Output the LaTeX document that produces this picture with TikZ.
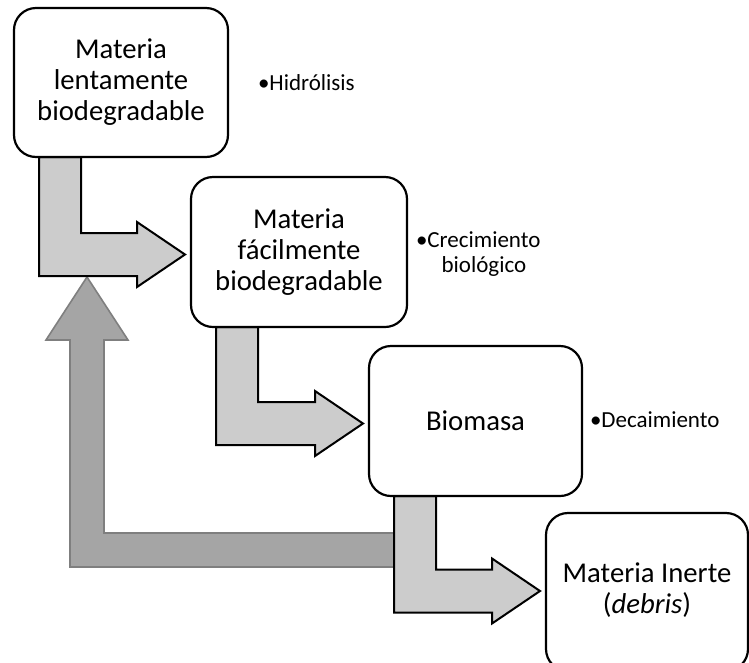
\documentclass[tikz,border=0pt]{standalone}
\usepackage{fontspec}
\setmainfont{Carlito}
\usetikzlibrary{calc}
\definecolor{lightarrow}{HTML}{CCCCCC}
\definecolor{darkarrow}{HTML}{A5A5A5}
\definecolor{darkedge}{HTML}{7F7F7F}
\tikzset{
  procbox/.style={draw=black, line width=2.2pt, fill=white, rounded corners=22pt,
    outer sep=0pt, inner sep=0pt, align=center,
    font=\fontsize{28.7}{31}\selectfont},
  lightarr/.style={draw=black, line width=2pt, fill=lightarrow, line join=miter},
  darkarr/.style={draw=darkedge, line width=1.6pt, fill=darkarrow, line join=miter},
  bulletlabel/.style={inner sep=0pt, outer sep=0pt, anchor=base west,
    font=\fontsize{23}{25.5}\selectfont}
}
\newcommand\bentarrow[2]{%
  \draw[lightarr] let \p1=($(#1.south west)+(25,0)$), \p2=($(#2.west)+(-6,\arrowdrop)$) in
    (\x1,\y1) -- (\x1+42pt,\y1) -- (\x1+42pt,\y2+21.5pt) -- (\x2-48pt,\y2+21.5pt)
    -- (\x2-48pt,\y2+32.5pt) -- (\x2,\y2) -- (\x2-48pt,\y2-32.5pt)
    -- (\x2-48pt,\y2-21.5pt) -- (\x1,\y2-21.5pt) -- cycle;}
\def\arrowdrop{2.5}
\begin{document}
\begin{tikzpicture}[x=1pt, y=-1pt]
\useasboundingbox (0,0) rectangle (749,662);
\clip (0,0) rectangle (749,662);
% box geometry (nodes placed first with no drawing, to be referenced)
\path
  (121,82.5) node[procbox, draw=none, fill=none, minimum width=214pt, minimum height=149pt] (b1) {}
  (299,252) node[procbox, draw=none, fill=none, minimum width=216pt, minimum height=150pt] (b2) {}
  (475.5,421) node[procbox, draw=none, fill=none, minimum width=213pt, minimum height=150pt] (b3) {}
  (647,592) node[procbox, draw=none, fill=none, minimum width=202pt, minimum height=158pt] (b4) {};
% feedback arrow
\coordinate (fbtip) at (87,277);
\draw[darkarr] ($(b3.south west)+(25,37)$) -- (104,533) -- (104,340) -- (128,340)
  -- (fbtip) -- (46,340) -- (70,340) -- (70,567) -- ($(b3.south west)+(25,71)$) -- cycle;
% bent arrows
\bentarrow{b1}{b2}
\bentarrow{b2}{b3}
\def\arrowdrop{-1}
\bentarrow{b3}{b4}
% boxes
\node[procbox, minimum width=214pt, minimum height=149pt] (box1) at (b1) {Materia\\lentamente\\biodegradable};
\node[procbox, minimum width=216pt, minimum height=150pt] (box2) at (b2) {Materia\\fácilmente\\biodegradable};
\node[procbox, minimum width=213pt, minimum height=150pt] (box3) at (b3) {Biomasa};
\node[procbox, minimum width=202pt, minimum height=158pt, text depth=7pt] (box4) at (b4) {Materia Inerte\\(\textit{debris})};
% side labels
\node[bulletlabel] (h1) at (258,90.5) {•Hidrólisis};
\node[bulletlabel] (h2) at (416,247) {•\begin{tabular}[t]{@{}c@{}}Crecimiento\\biológico\end{tabular}};
\node[bulletlabel] (h3) at (590,427) {•Decaimiento};
\end{tikzpicture}
\end{document}
